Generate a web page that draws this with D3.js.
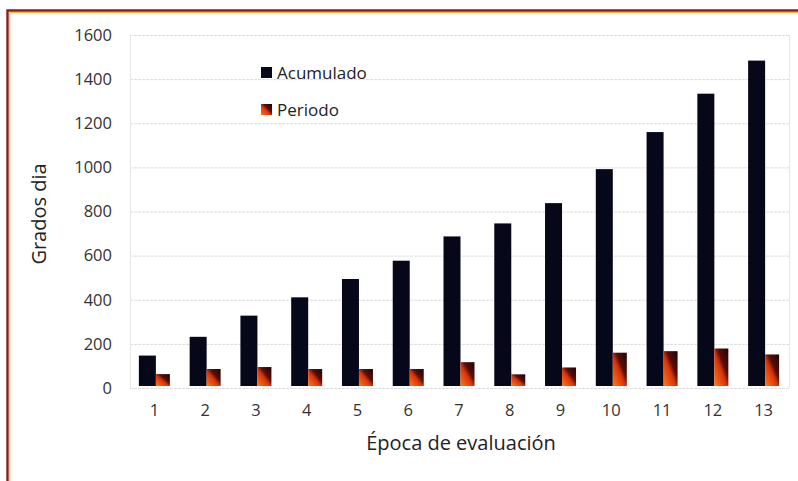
<!DOCTYPE html>
<html><head><meta charset="utf-8">
<script src="https://cdn.jsdelivr.net/npm/d3@7"></script>
<style>body{margin:0;background:#fff;} text{font-family:"Open Sans",sans-serif;}</style>
</head><body>
<svg id="c" width="798" height="481"></svg>
<script>
const categories = ["1","2","3","4","5","6","7","8","9","10","11","12","13"];
const acumulado = [147, 232, 328, 411, 494, 577, 687, 746, 838, 992, 1160, 1334, 1484];
const periodo = [63, 86, 95, 86, 86, 86, 117, 62, 93, 160, 167, 179, 152];
const yTicks = [0, 200, 400, 600, 800, 1000, 1200, 1400, 1600];
const seriesNames = ["Acumulado", "Periodo"];

const svg = d3.select("#c");
const m = {l:130, r:790, t:35, b:388};
const defs = svg.append("defs");
const g1 = defs.append("linearGradient").attr("id","gp").attr("x1","0").attr("y1","1").attr("x2","1").attr("y2","0");
g1.append("stop").attr("offset","0").attr("stop-color","#ff7a1a");
g1.append("stop").attr("offset","0.45").attr("stop-color","#d8340c");
g1.append("stop").attr("offset","0.62").attr("stop-color","#5a0d08");
g1.append("stop").attr("offset","1").attr("stop-color","#1a0506");

// frame
svg.append("path").attr("d","M7.5,481 L7.5,10.5 L798,10.5").attr("fill","none").attr("stroke","#8c1c1c").attr("stroke-width",2.4);
svg.append("path").attr("d","M9.8,481 L9.8,12.6 L798,12.6").attr("fill","none").attr("stroke","#f0b040").attr("stroke-width",1);

const x = d3.scaleBand().domain(categories).range([m.l, m.r]);
const y = d3.scaleLinear().domain([0,1600]).range([m.b, m.t]);

// grid
svg.append("g").selectAll("line").data(yTicks).join("line")
  .attr("x1",m.l).attr("x2",m.r).attr("y1",d=>y(d)+0.5).attr("y2",d=>y(d)+0.5)
  .attr("stroke","#dcdcdc").attr("stroke-width",1).attr("stroke-dasharray","3,1");
svg.append("line").attr("x1",m.l+0.5).attr("x2",m.l+0.5).attr("y1",m.t).attr("y2",m.b).attr("stroke","#e6e6e6");
svg.append("line").attr("x1",m.r-0.5).attr("x2",m.r-0.5).attr("y1",m.t).attr("y2",m.b).attr("stroke","#e6e6e6");

// y axis
const ya = svg.append("g").attr("transform",`translate(${m.l},0)`)
  .call(d3.axisLeft(y).tickValues(yTicks).tickSize(0).tickPadding(18).tickFormat(d3.format("d")));
ya.select(".domain").remove();
ya.selectAll("text").attr("font-size",16.5).attr("fill","#333").style("font-family","'Open Sans',sans-serif");

// x axis
const xa = svg.append("g").attr("transform",`translate(0,${m.b})`)
  .call(d3.axisBottom(x).tickSize(0).tickPadding(16));
xa.select(".domain").remove();
xa.selectAll("text").attr("font-size",16.5).attr("fill","#333").style("font-family","'Open Sans',sans-serif")
  .attr("dx",-1);

// bars
const bw1 = 17, bw2 = 14;
svg.append("g").selectAll("rect").data(acumulado).join("rect")
  .attr("x",(d,i)=>x(categories[i])+x.bandwidth()/2-bw1+0.5)
  .attr("width",bw1).attr("y",d=>y(d)).attr("height",d=>y(0)-y(d)-2)
  .attr("fill","#07071a");
svg.append("g").selectAll("rect").data(periodo).join("rect")
  .attr("x",(d,i)=>x(categories[i])+x.bandwidth()/2+0.5)
  .attr("width",bw2).attr("y",d=>y(d)).attr("height",d=>y(0)-y(d)-2)
  .attr("fill","url(#gp)");

// legend
const lg = svg.append("g");
const lgY = [67, 104];
const lgFill = ["#07071a","url(#gp)"];
seriesNames.forEach((s,i)=>{
  lg.append("rect").attr("x",261).attr("y",lgY[i]).attr("width",11).attr("height",11).attr("fill",lgFill[i]);
  lg.append("text").attr("x",277).attr("y",lgY[i]+11.5).attr("font-size",17).attr("fill","#222").text(s);
});

// titles
svg.append("text").attr("transform","translate(46,214) rotate(-90)").attr("text-anchor","middle")
  .attr("font-size",20).attr("fill","#222").text("Grados dia");
svg.append("text").attr("x",461).attr("y",450).attr("text-anchor","middle")
  .attr("font-size",20).attr("fill","#222").text("Época de evaluación");
</script>
</body></html>
